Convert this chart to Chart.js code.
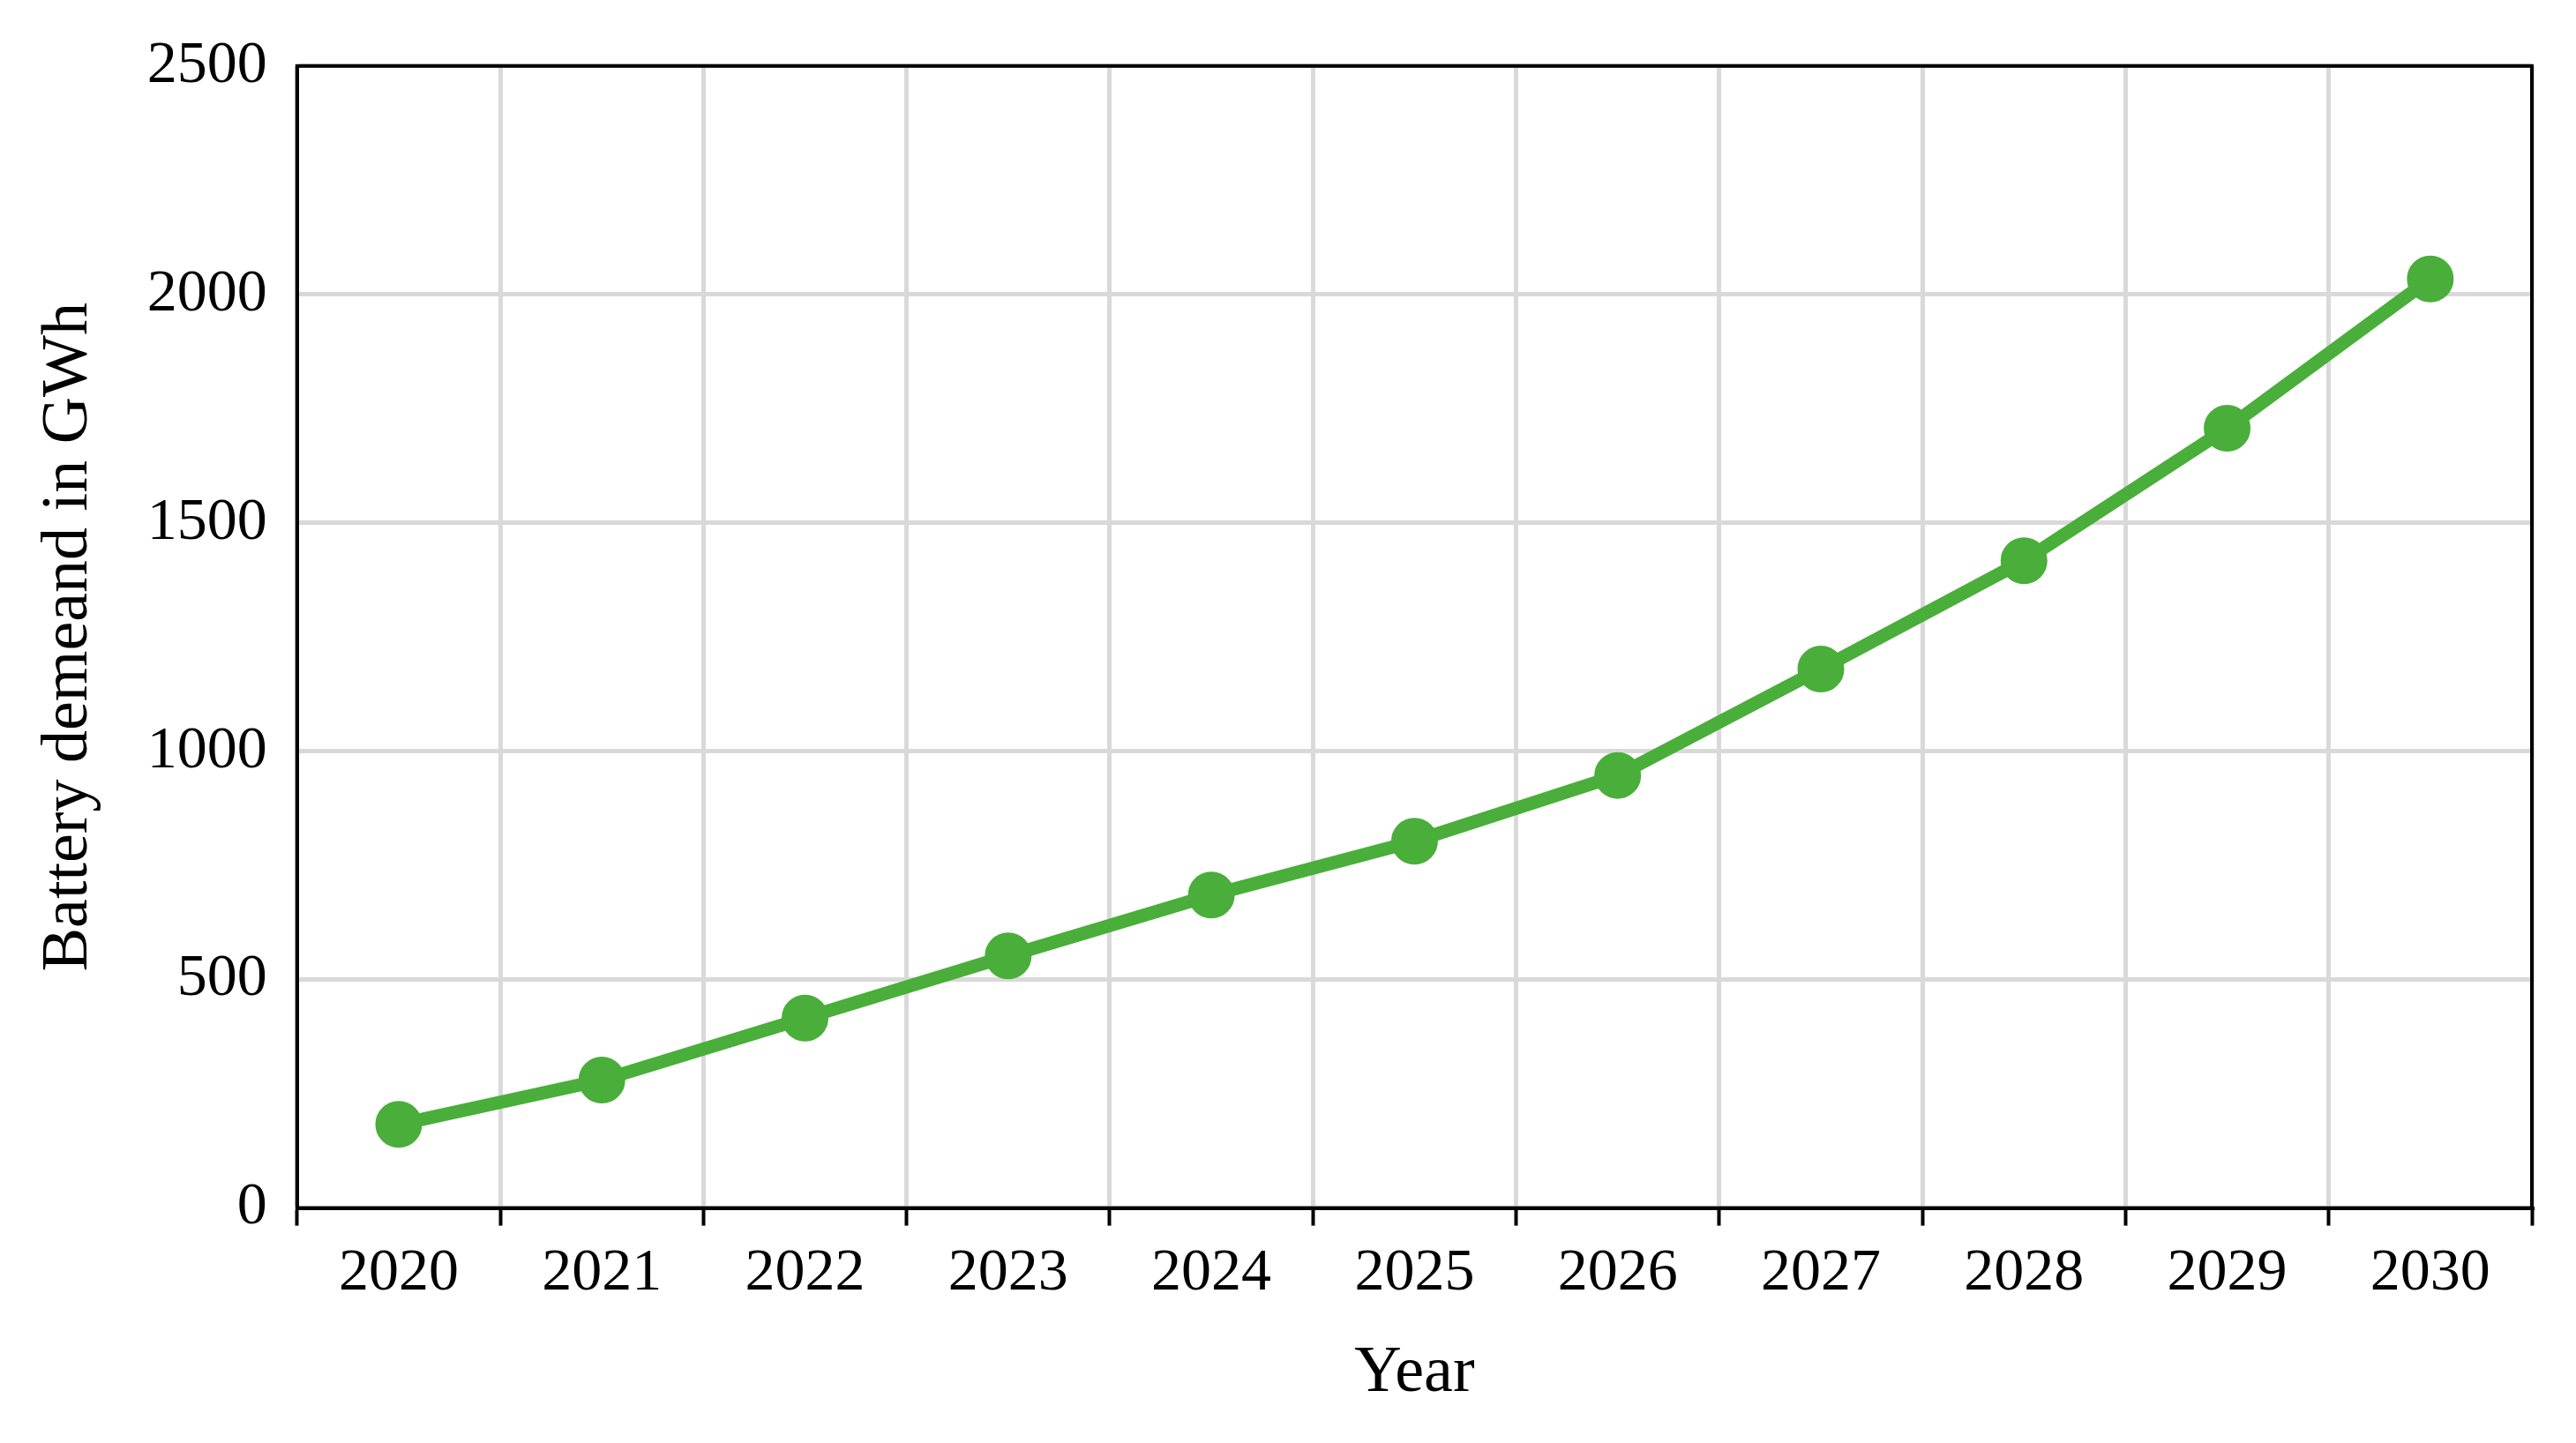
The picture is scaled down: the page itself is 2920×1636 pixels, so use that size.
<!DOCTYPE html>
<html>
<head>
<meta charset="utf-8">
<script src="https://cdn.jsdelivr.net/npm/chart.js@4/dist/chart.umd.min.js"></script>
<style>
  body { margin: 0; background: #fff; }
  canvas { display: block; }
</style>
</head>
<body>
<canvas id="chart" width="2920" height="1636"></canvas>
<script>
const years = ['2020', '2021', '2022', '2023', '2024', '2025', '2026', '2027', '2028', '2029', '2030'];
const demand = [183, 280, 416, 552, 685, 803, 947, 1180, 1417, 1707, 2034];
const yTicks = [0, 500, 1000, 1500, 2000, 2500];

const font = 'Liberation Serif';

// black frame around the plot area
const frame = {
  id: 'frame',
  afterDraw(chart) {
    const { ctx, chartArea: a } = chart;
    ctx.save();
    ctx.strokeStyle = '#000';
    ctx.lineWidth = 4;
    ctx.strokeRect(a.left, a.top, a.right - a.left, a.bottom - a.top);
    ctx.restore();
  }
};

new Chart(document.getElementById('chart'), {
  type: 'line',
  data: {
    labels: years,
    datasets: [{
      data: demand,
      borderColor: '#4aae3a',
      backgroundColor: '#4aae3a',
      borderWidth: 15,
      pointRadius: 19,
      pointHoverRadius: 19,
      tension: 0
    }]
  },
  options: {
    responsive: false,
    animation: false,
    layout: { padding: { top: 70, right: 50, left: 30, bottom: 30 } },
    plugins: { legend: { display: false }, tooltip: { enabled: false } },
    scales: {
      x: {
        offset: true,
        grid: { offset: true, color: '#d9d9d9', lineWidth: 5, tickLength: 20, tickColor: '#000', tickWidth: 4 },
        border: { color: '#000', width: 4 },
        ticks: { color: '#000', font: { family: font, size: 68 }, padding: 14 },
        title: { display: true, text: 'Year', color: '#000', font: { family: font, size: 74 }, padding: { top: 14 } }
      },
      y: {
        min: 0,
        max: 2500,
        afterBuildTicks(axis) { axis.ticks = yTicks.map(v => ({ value: v })); },
        grid: { color: '#d9d9d9', lineWidth: 5, drawTicks: false },
        border: { color: '#000', width: 4 },
        ticks: { color: '#000', font: { family: font, size: 68 }, padding: 34, callback: v => String(v) },
        title: { display: true, text: 'Battery demeand in GWh', color: '#000', font: { family: font, size: 74 }, padding: { bottom: 10 } }
      }
    }
  },
  plugins: [frame]
});
</script>
</body>
</html>
